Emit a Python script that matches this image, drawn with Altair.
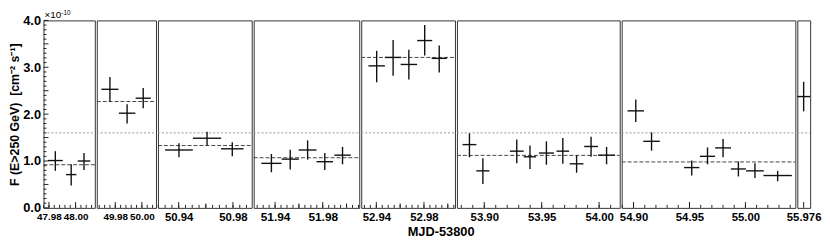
import altair as alt
import pandas as pd
import numpy as np

FONT = "Liberation Sans"

# ---- data (MJD - 53800, flux in units of 1e-10 cm^-2 s^-1) ----
mjd = [
    [47.9848, 47.9967, 48.0063],
    [49.976, 49.9889, 50.001],
    [50.9402, 50.9609, 50.9795],
    [51.9369, 51.9527, 51.9673, 51.9817, 51.9966],
    [52.9403, 52.9541, 52.9673, 52.9806, 52.9928],
    [53.8871, 53.8988, 53.9283, 53.9398, 53.9541, 53.9684, 53.9804, 53.993, 54.0065],
    [54.902, 54.9161, 54.952, 54.9661, 54.98, 54.9937, 55.0085, 55.0288],
    [55.976],
]
mjd_err = [
    [0.0056, 0.0039, 0.0047],
    [0.0064, 0.0062, 0.0057],
    [0.0102, 0.0104, 0.0083],
    [0.0085, 0.0072, 0.0075, 0.0069, 0.0069],
    [0.0069, 0.0069, 0.0069, 0.0063, 0.0064],
    [0.006, 0.0057, 0.006, 0.0054, 0.0066, 0.0055, 0.006, 0.006, 0.0074],
    [0.0074, 0.0074, 0.0068, 0.0068, 0.0071, 0.0067, 0.0079, 0.0127],
    [0.0065],
]
flux = [
    [1.01, 0.71, 1.00],
    [2.53, 2.02, 2.34],
    [1.235, 1.486, 1.26],
    [0.95, 1.04, 1.235, 0.985, 1.125],
    [3.03, 3.21, 3.06, 3.57, 3.19],
    [1.35, 0.79, 1.21, 1.09, 1.17, 1.21, 0.94, 1.31, 1.125],
    [2.07, 1.42, 0.86, 1.10, 1.28, 0.83, 0.79, 0.69],
    [2.375],
]
flux_lo = [
    [0.79, 0.48, 0.81],
    [2.27, 1.80, 2.125],
    [1.08, 1.33, 1.10],
    [0.76, 0.82, 1.03, 0.81, 0.93],
    [2.68, 2.82, 2.74, 3.25, 2.89],
    [1.08, 0.51, 0.95, 0.83, 0.92, 0.94, 0.75, 1.09, 0.93],
    [1.83, 1.22, 0.69, 0.93, 1.08, 0.67, 0.64, 0.57],
    [2.06],
]
flux_hi = [
    [1.21, 0.93, 1.17],
    [2.79, 2.21, 2.56],
    [1.38, 1.625, 1.40],
    [1.15, 1.24, 1.44, 1.17, 1.30],
    [3.35, 3.58, 3.375, 3.90, 3.465],
    [1.59, 1.06, 1.46, 1.33, 1.42, 1.49, 1.125, 1.52, 1.30],
    [2.31, 1.61, 1.01, 1.29, 1.47, 0.99, 0.95, 0.79],
    [2.69],
]
night_mean = [0.92, 2.27, 1.33, 1.07, 3.21, 1.12, 0.98, None]
overall_level = 1.6

# ---- axis ticks / panel layout ----
x_domains = [
    [47.97593, 48.01444],
    [49.96615, 50.01059],
    [50.92473, 50.99382],
    [51.92203, 52.01064],
    [52.92733, 53.00600],
    [53.87620, 54.01796],
    [54.88942, 55.04462],
    [55.9696, 55.9826],
]
major_ticks = [
    [47.98, 48.00],
    [49.98, 50.00],
    [50.94, 50.98],
    [51.94, 51.98],
    [52.94, 52.98],
    [53.90, 53.95, 54.00],
    [54.90, 54.95, 55.00],
    [55.976],
]
medium_ticks = [[], [], [50.96], [51.96, 52.00], [52.96, 53.00], [], [], []]
minor_step = [0.004, 0.004, 0.005, 0.005, 0.005, 0.01, 0.01, None]
label_fmt = [".2f"] * 7 + [".3f"]
label_size = [10, 10, 11.5, 12, 11.5, 11.5, 11.5, 11.5]
widths = [52, 60, 95, 107, 95, 165, 176, 13]
y_major = [0.0, 0.5, 1.0, 1.5, 2.0, 2.5, 3.0, 3.5, 4.0]
y_minor = [round(v * 0.1, 1) for v in range(41) if v % 5 != 0]

H = 190
BAR = "#111111"
NB = "\u00a0"


def panel(i):
    W = widths[i]
    d0, d1 = x_domains[i]
    df = pd.DataFrame({"t": mjd[i], "dt": mjd_err[i], "f": flux[i],
                       "lo": flux_lo[i], "hi": flux_hi[i]})
    df["t0"] = df["t"] - df["dt"]
    df["t1"] = df["t"] + df["dt"]
    xs = alt.Scale(domain=[d0, d1], nice=False, zero=False)
    ys = alt.Scale(domain=[0, 4], nice=False, zero=False)

    xaxis = alt.Axis(values=major_ticks[i], format=label_fmt[i], labelFont=FONT,
                     labelFontSize=label_size[i], labelFontWeight="bold", labelColor="black",
                     labelPadding=4, ticks=False, tickSize=0, domain=False, grid=False,
                     labelFlush=False, labelOverlap=False, title=None)
    if i == 0:
        yaxis = alt.Axis(values=y_major, format=".1f", labelFont=FONT, labelFontSize=13,
                         labelFontWeight="bold", labelColor="black", labelPadding=3,
                         ticks=False, tickSize=0, domain=False, grid=False, labelFlush=False,
                         title="F (E>250 GeV)" + NB + NB + "[cm⁻² s⁻¹]", titleFont=FONT,
                         titleFontSize=12.5, titleFontWeight="bold", titleColor="black",
                         titlePadding=1)
    else:
        yaxis = None

    def Y(field, main=False):
        if i == 0:
            if main:
                return alt.Y(field, scale=ys, axis=yaxis)
            return alt.Y(field, scale=ys)
        return alt.Y(field, scale=ys, axis=None)

    def X(field, main=False):
        if main:
            return alt.X(field, scale=xs, axis=xaxis)
        return alt.X(field, scale=xs)

    layers = []
    # overall reference level (grey dotted)
    layers.append(alt.Chart(pd.DataFrame({"y": [overall_level]})).mark_rule(
        color="#9a9a9a", strokeWidth=1, strokeDash=[2, 2]).encode(
        y=Y("y:Q"), x=alt.value(0), x2=alt.value(W)))
    # nightly mean (dark dashed)
    if night_mean[i] is not None:
        layers.append(alt.Chart(pd.DataFrame({"y": [night_mean[i]]})).mark_rule(
            color="#444444", strokeWidth=1, strokeDash=[4, 2]).encode(
            y=Y("y:Q"), x=alt.value(0), x2=alt.value(W)))

    # x ticks pointing inward
    minors = []
    if minor_step[i]:
        n0 = int(np.ceil(d0 / minor_step[i]))
        n1 = int(np.floor(d1 / minor_step[i]))
        minors = [k * minor_step[i] for k in range(n0, n1 + 1)]
    for vals, ln in ((minors, 3), (medium_ticks[i], 4.5), (major_ticks[i], 6)):
        if vals:
            layers.append(alt.Chart(pd.DataFrame({"v": vals})).mark_rule(
                color="#222222", strokeWidth=1).encode(
                x=X("v:Q"), y=alt.value(H), y2=alt.value(H - ln)))

    if i == 0:
        for vals, ln in ((y_minor, 3), (y_major, 5)):
            layers.append(alt.Chart(pd.DataFrame({"v": vals})).mark_rule(
                color="#222222", strokeWidth=1).encode(
                y=Y("v:Q"), x=alt.value(0), x2=alt.value(ln)))

    base = alt.Chart(df)
    layers.append(base.mark_rule(color=BAR, strokeWidth=1.4).encode(
        x=X("t:Q", main=True),
        y=Y("lo:Q", main=True), y2="hi:Q"))
    layers.append(base.mark_rule(color=BAR, strokeWidth=1.4).encode(
        x=X("t0:Q"), x2="t1:Q",
        y=Y("f:Q")))

    one = alt.Data(values=[{"a": 1}])
    if i == 0:
        layers.append(alt.Chart(one).mark_text(
            text="×10", font=FONT, fontSize=10, align="left", baseline="alphabetic",
            color="black").encode(x=alt.value(1), y=alt.value(-2)))
        layers.append(alt.Chart(one).mark_text(
            text="-10", font=FONT, fontSize=6.5, align="left", baseline="alphabetic",
            color="black").encode(x=alt.value(18), y=alt.value(-5)))
    if i == 4:
        layers.append(alt.Chart(one).mark_text(
            text="MJD-53800", font=FONT, fontSize=13, fontWeight="bold", align="center",
            baseline="alphabetic", color="black").encode(x=alt.value(81), y=alt.value(H + 28)))

    return alt.layer(*layers).properties(width=W, height=H)


chart = alt.hconcat(*[panel(i) for i in range(8)], spacing=2, bounds="flush").configure_view(
    stroke="#333333", strokeWidth=1).properties(padding={"left": 0, "top": 0, "right": 0, "bottom": 0},
                                                background="white")

chart.save("out.html", embed_options={"renderer": "svg", "actions": False})
